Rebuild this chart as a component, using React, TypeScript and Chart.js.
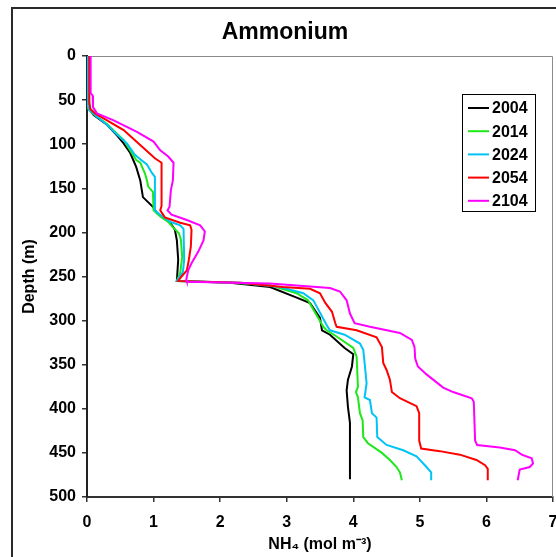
import { useEffect, useRef } from "react";
import { Chart, registerables } from "chart.js";

Chart.register(...registerables);

// ---- data (NH4 in mol m-3, depth in m) ----
const seriesYears = ["2004", "2014", "2024", "2054", "2104"];
const seriesColors = ["#000000", "#1ee81a", "#00c4f5", "#ff0000", "#ff00ff"];

const nh4_2004 = [0.02, 0.02, 0.02, 0.05, 0.1, 0.3, 0.45, 0.55, 0.65, 0.74, 0.8, 0.84, 0.99, 1.05, 1.25, 1.32, 1.35, 1.37, 1.35, 2.15, 2.75, 3.15, 3.35, 3.5, 3.53, 3.65, 3.87, 4.0, 3.98, 3.92, 3.9, 3.92, 3.95, 3.95];
const depth_2004 = [0, 50, 57, 62, 67, 78, 90, 99, 110, 126, 141, 160, 171, 178, 189, 197, 209, 231, 255, 257, 262, 274, 280, 297, 311, 316, 331, 338, 352, 367, 379, 398, 416, 480];

const nh4_2014 = [0.01, 0.01, 0.02, 0.1, 0.3, 0.45, 0.55, 0.65, 0.74, 0.8, 0.87, 0.9, 0.92, 0.99, 1.0, 1.1, 1.22, 1.29, 1.38, 1.41, 1.43, 1.4, 1.35, 2.2, 2.75, 3.15, 3.32, 3.55, 3.6, 3.75, 4.0, 4.05, 4.07, 4.04, 4.07, 4.1, 4.14, 4.15, 4.22, 4.43, 4.55, 4.65, 4.7, 4.73];
const depth_2014 = [0, 55, 60, 66, 77, 88, 95, 107, 118, 121, 133, 141, 148, 154, 175, 182, 188, 194, 201, 208, 228, 246, 255, 257, 260, 269, 277, 307, 311, 318, 331, 341, 375, 381, 387, 405, 413, 432, 439, 450, 458, 466, 472, 481];

const nh4_2024 = [0.01, 0.01, 0.03, 0.12, 0.3, 0.45, 0.6, 0.72, 0.8, 0.9, 0.97, 1.02, 1.02, 1.1, 1.25, 1.4, 1.45, 1.46, 1.44, 1.35, 2.3, 2.9, 3.25, 3.4, 3.6, 3.65, 3.87, 4.1, 4.15, 4.17, 4.2, 4.17, 4.25, 4.28, 4.35, 4.36, 4.5, 4.75, 4.95, 5.1, 5.17, 5.17];
const depth_2024 = [0, 55, 61, 67, 78, 89, 99, 112, 117, 123, 132, 137, 175, 180, 188, 192, 196, 231, 245, 255, 257, 262, 269, 277, 305, 311, 316, 326, 333, 348, 371, 387, 390, 405, 410, 432, 441, 447, 454, 466, 472, 481];

const nh4_2054 = [0.035, 0.035, 0.05, 0.12, 0.3, 0.55, 0.77, 1.02, 1.12, 1.12, 1.1, 1.17, 1.4, 1.55, 1.57, 1.56, 1.53, 1.5, 1.42, 1.37, 2.3, 2.94, 3.35, 3.5, 3.58, 3.68, 3.73, 3.75, 4.05, 4.35, 4.43, 4.45, 4.5, 4.55, 4.58, 4.7, 4.95, 4.99, 4.99, 5.02, 5.3, 5.6, 5.85, 5.98, 6.02, 6.02];
const depth_2054 = [0, 52, 60, 65, 73, 84, 99, 116, 121, 170, 175, 183, 189, 192, 197, 216, 231, 243, 250, 255, 257, 262, 264, 269, 280, 290, 303, 307, 311, 319, 330, 348, 356, 367, 381, 388, 397, 405, 436, 445, 448, 452, 458, 464, 468, 481];

const nh4_2104 = [0.055, 0.055, 0.085, 0.09, 0.15, 0.4, 0.75, 1.0, 1.1, 1.22, 1.3, 1.29, 1.26, 1.24, 1.21, 1.27, 1.5, 1.7, 1.77, 1.75, 1.67, 1.57, 1.52, 1.49, 1.5, 2.75, 3.65, 3.8, 3.9, 3.95, 4.02, 4.25, 4.7, 4.88, 4.92, 4.93, 4.97, 5.1, 5.35, 5.5, 5.78, 5.81, 5.83, 5.86, 6.2, 6.43, 6.53, 6.68, 6.7, 6.65, 6.5, 6.47];
const depth_2104 = [0, 42, 45, 58, 65, 73, 86, 97, 107, 114, 121, 141, 152, 171, 175, 180, 186, 192, 199, 209, 222, 235, 243, 254, 256, 258, 263, 267, 277, 292, 303, 307, 314, 322, 330, 343, 352, 361, 376, 381, 388, 392, 436, 441, 444, 447, 452, 456, 462, 466, 469, 481];

const nh4Series = [nh4_2004, nh4_2014, nh4_2024, nh4_2054, nh4_2104];
const depthSeries = [depth_2004, depth_2014, depth_2024, depth_2054, depth_2104];

const xMin = 0, xMax = 7, xStep = 1;
const yMin = 0, yMax = 500, yStep = 50;

const chartTitle = "Ammonium";
const xTitle = "NH\u2084 (mol m\u207B\u00B3)";
const yTitle = "Depth (m)";

const FONT = "Arial, 'Liberation Sans', Helvetica, sans-serif";

const decorPlugin = {
  id: "decor",
  beforeDatasetsDraw(chart: any) {
    const { ctx, chartArea } = chart;
    ctx.save();
    ctx.strokeStyle = "#8a8a8a";
    ctx.lineWidth = 1;
    ctx.beginPath();
    ctx.moveTo(chartArea.left, chartArea.top + 0.5);
    ctx.lineTo(chartArea.right - 0.5, chartArea.top + 0.5);
    ctx.lineTo(chartArea.right - 0.5, chartArea.bottom);
    ctx.stroke();
    ctx.restore();
  },
  afterDraw(chart: any) {
    const { ctx } = chart;
    ctx.save();
    // outer frame
    ctx.strokeStyle = "#2a2a2a";
    ctx.lineWidth = 2;
    ctx.strokeRect(12, 8, 700, 700);
    // title
    ctx.fillStyle = "#000";
    ctx.font = `bold 23px ${FONT}`;
    ctx.textAlign = "center";
    ctx.textBaseline = "middle";
    ctx.fillText(chartTitle, 285, 33);
    // legend
    const bx = 462, by = 94, bw = 73, bh = 117;
    ctx.fillStyle = "#fff";
    ctx.fillRect(bx, by, bw, bh);
    ctx.strokeStyle = "#000";
    ctx.lineWidth = 1;
    ctx.strokeRect(bx + 0.5, by + 0.5, bw, bh);
    ctx.font = `bold 16px ${FONT}`;
    ctx.textAlign = "left";
    ctx.textBaseline = "middle";
    chart.data.datasets.forEach((ds: any, i: number) => {
      const y = by + 14 + i * 23.2;
      ctx.strokeStyle = ds.borderColor;
      ctx.lineWidth = 2;
      ctx.beginPath();
      ctx.moveTo(bx + 6, y);
      ctx.lineTo(bx + 27, y);
      ctx.stroke();
      ctx.fillStyle = "#000";
      ctx.fillText(ds.label, bx + 30, y + 1);
    });
    ctx.restore();
  },
};

export default function App() {
  const ref = useRef<HTMLCanvasElement | null>(null);

  useEffect(() => {
    if (!ref.current) return;
    const datasets = seriesYears.map((label, i) => ({
      label,
      data: nh4Series[i].map((v, j) => ({ x: v, y: depthSeries[i][j] })),
      borderColor: seriesColors[i],
      backgroundColor: seriesColors[i],
      borderWidth: 2,
      pointRadius: 0,
      showLine: true,
      tension: 0,
      fill: false,
      order: seriesYears.length - i,
    }));

    const chart = new Chart(ref.current, {
      type: "scatter",
      data: { datasets },
      options: {
        responsive: false,
        animation: false,
        layout: { padding: { left: 0, right: 3, top: 56, bottom: 0 } },
        plugins: {
          legend: { display: false },
          title: { display: false },
          tooltip: { enabled: false },
        },
        scales: {
          x: {
            type: "linear",
            min: xMin,
            max: xMax,
            ticks: {
              stepSize: xStep,
              color: "#000",
              font: { family: FONT, size: 16, weight: "bold" },
              padding: 11,
              maxRotation: 0,
            },
            grid: {
              drawOnChartArea: false,
              drawTicks: true,
              tickLength: 5,
              color: "#333",
              lineWidth: 1.5,
            },
            border: { display: true, color: "#333", width: 2 },
            title: {
              display: true,
              text: xTitle,
              color: "#000",
              font: { family: FONT, size: 16, weight: "bold" },
              padding: { top: 0, bottom: 3 },
            },
            afterFit(scale: any) {
              scale.height = 60;
              scale.paddingRight = 0;
              scale.paddingLeft = 0;
            },
          },
          y: {
            type: "linear",
            reverse: true,
            min: yMin,
            max: yMax,
            ticks: {
              stepSize: yStep,
              color: "#000",
              font: { family: FONT, size: 16, weight: "bold" },
              padding: 6,
            },
            grid: {
              drawOnChartArea: false,
              drawTicks: true,
              tickLength: 5,
              color: "#333",
              lineWidth: 1.5,
            },
            border: { display: true, color: "#222", width: 2 },
            title: {
              display: true,
              text: yTitle,
              color: "#000",
              font: { family: FONT, size: 16, weight: "bold" },
              padding: { top: 20, bottom: 0 },
            },
            afterFit(scale: any) {
              scale.width = 87;
            },
          },
        },
      },
      plugins: [decorPlugin],
    });
    return () => chart.destroy();
  }, []);

  return (
    <div style={{ position: "fixed", left: 0, top: 0, width: 556, height: 557, background: "#fff", overflow: "hidden" }}>
      <canvas ref={ref} width={556} height={557} style={{ display: "block" }} />
    </div>
  );
}
